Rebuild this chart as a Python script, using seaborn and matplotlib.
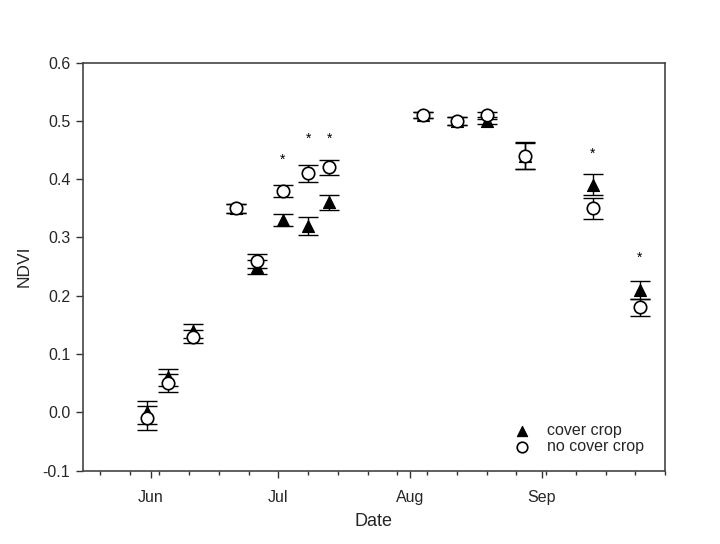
import matplotlib
matplotlib.use("Agg")
import matplotlib.pyplot as plt
import matplotlib.dates as mdates
import seaborn as sns
import pandas as pd
import numpy as np

# ---- data ----
dates = ["2013-05-31", "2013-06-05", "2013-06-11", "2013-06-21", "2013-06-26",
         "2013-07-02", "2013-07-08", "2013-07-13", "2013-08-04", "2013-08-12",
         "2013-08-19", "2013-08-28", "2013-09-13", "2013-09-24"]
cover = [0.00, 0.06, 0.14, 0.35, 0.25, 0.33, 0.32, 0.36, 0.51, 0.50, 0.50, 0.44, 0.39, 0.21]
cover_err = [0.020, 0.015, 0.012, 0.008, 0.012, 0.010, 0.015, 0.013, 0.005, 0.007, 0.006, 0.022, 0.018, 0.015]
nocover = [-0.01, 0.05, 0.13, 0.35, 0.26, 0.38, 0.41, 0.42, 0.51, 0.50, 0.51, 0.44, 0.35, 0.18]
nocover_err = [0.020, 0.015, 0.012, 0.008, 0.012, 0.010, 0.015, 0.013, 0.005, 0.007, 0.006, 0.023, 0.018, 0.015]
star_dates = ["2013-07-02", "2013-07-08", "2013-07-13", "2013-09-13", "2013-09-24"]
star_y = [0.433, 0.470, 0.470, 0.443, 0.265]
series_names = ["cover crop", "no cover crop"]

sns.set_theme(style="ticks")
plt.rcParams['font.family'] = ['Liberation Sans', 'DejaVu Sans']

d = pd.to_datetime(dates)
df = pd.DataFrame({
    "date": list(d) * 2,
    "NDVI": cover + nocover,
    "err": cover_err + nocover_err,
    "treatment": [series_names[0]] * len(d) + [series_names[1]] * len(d),
})

fig = plt.figure(figsize=(7.2, 5.44), dpi=100)
ax = fig.add_axes([0.115, 0.135, 0.8088, 0.75])

# error bars
for name, z in zip(series_names, [2, 3]):
    sub = df[df.treatment == name]
    ax.errorbar(sub["date"], sub["NDVI"], yerr=sub["err"], fmt="none",
                ecolor="black", elinewidth=1.0, capsize=7, capthick=1.0, zorder=z)

sns.scatterplot(data=df[df.treatment == series_names[0]], x="date", y="NDVI",
                marker="^", s=75, color="black", edgecolor="black", linewidth=0.8,
                ax=ax, zorder=4, label=series_names[0])
sns.scatterplot(data=df[df.treatment == series_names[1]], x="date", y="NDVI",
                marker="o", s=80, facecolor="white", edgecolor="black", linewidth=1.2,
                ax=ax, zorder=5, label=series_names[1])

# significance stars
for sd, sy in zip(pd.to_datetime(star_dates), star_y):
    ax.text(sd, sy, "*", ha="center", va="center", fontsize=10, color="black")

ax.set_xlim(pd.Timestamp("2013-05-16"), pd.Timestamp("2013-09-30"))
ax.set_ylim(-0.1, 0.6)
ax.set_yticks(np.arange(-0.1, 0.61, 0.1))
ax.yaxis.set_major_formatter(matplotlib.ticker.FormatStrFormatter("%.1f"))

ax.xaxis.set_major_locator(mdates.MonthLocator(bymonth=[6, 7, 8, 9]))
ax.xaxis.set_major_formatter(mdates.DateFormatter("%b"))
ax.xaxis.set_minor_locator(mdates.WeekdayLocator(byweekday=mdates.MO))

ax.tick_params(axis="both", which="major", direction="out", length=5, width=1,
               labelsize=11.5, color="#333333", top=False, right=False)
ax.tick_params(axis="y", which="major", pad=4)
ax.tick_params(axis="x", which="minor", direction="out", length=3, width=1,
               color="#333333", top=False)
ax.tick_params(axis="x", which="major", pad=9)

for sp in ax.spines.values():
    sp.set_visible(True)
    sp.set_color("#444444")
    sp.set_linewidth(1.2)

ax.set_xlabel("Date", fontsize=13, labelpad=6)
ax.set_ylabel("NDVI", fontsize=12.5, labelpad=8)

ax.legend(loc="lower right", frameon=False, fontsize=11.5, handletextpad=0.6,
          labelspacing=0.05, borderaxespad=0.0, bbox_to_anchor=(0.975, 0.025),
          markerscale=0.85)

fig.savefig("out.png", dpi=100)
